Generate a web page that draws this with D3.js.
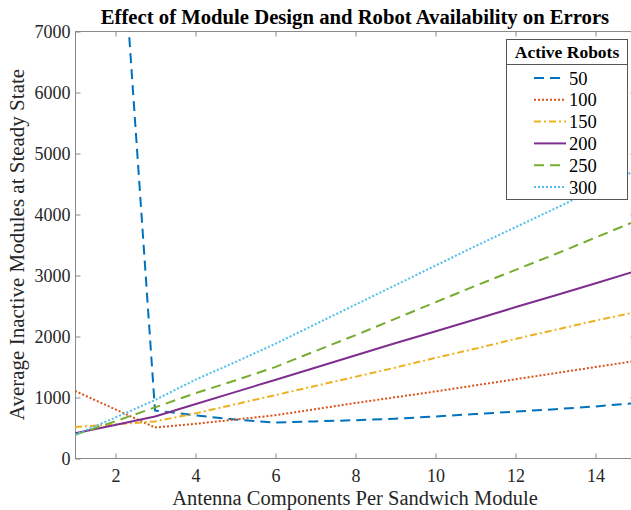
<!DOCTYPE html>
<html>
<head>
<meta charset="utf-8">
<script src="https://cdn.jsdelivr.net/npm/d3@7"></script>
<style>
  html, body { margin: 0; padding: 0; background: #fff; }
  svg { display: block; }
</style>
</head>
<body>
<svg id="chart" width="631" height="510"></svg>
<script>
// Antenna components per sandwich module (x values)
const components = [1, 2, 3, 4, 5, 6, 7, 8, 9, 10, 11, 12, 13, 14, 15];

// Average inactive modules at steady state, one array per robot count
const robots50  = [null, 10300, 780, 700, 630, 580, 600, 620, 645, 680, 720, 760, 800, 845, 900];
const robots100 = [1100, 800, 500, 560, 630, 700, 800, 900, 995, 1090, 1190, 1290, 1390, 1490, 1590];
const robots150 = [510, 550, 600, 730, 880, 1030, 1180, 1330, 1480, 1640, 1790, 1950, 2100, 2250, 2390];
const robots200 = [405, 540, 680, 880, 1080, 1280, 1480, 1680, 1880, 2075, 2270, 2470, 2665, 2860, 3060];
const robots250 = [380, 600, 830, 1060, 1270, 1490, 1750, 2010, 2280, 2550, 2820, 3080, 3340, 3610, 3880];
const robots300 = [380, 660, 950, 1280, 1570, 1870, 2190, 2510, 2830, 3150, 3470, 3780, 4090, 4400, 4710];

const seriesNames = ["50", "100", "150", "200", "250", "300"];
const seriesValues = [robots50, robots100, robots150, robots200, robots250, robots300];
const seriesColors = ["#0072BD", "#D95319", "#EDB120", "#7E2F8E", "#77AC30", "#4DBEEE"];
const seriesDashes = ["10,6", "2,2", "7,3,2,3", null, "10,6", "2,2"];

const xTicks = [2, 4, 6, 8, 10, 12, 14];
const yTicks = [0, 1000, 2000, 3000, 4000, 5000, 6000, 7000];

const titleText = "Effect of Module Design and Robot Availability on Errors";
const xLabel = "Antenna Components Per Sandwich Module";
const yLabel = "Average Inactive Modules at Steady State";
const legendTitle = "Active Robots";

const serif = '"Liberation Serif", "Times New Roman", serif';
const textColor = "#262626";

const svg = d3.select("#chart");
const margin = { left: 75, top: 31, right: 635, bottom: 458 };

const x = d3.scaleLinear().domain([1, 15]).range([margin.left, margin.right]);
const y = d3.scaleLinear().domain([0, 7000]).range([margin.bottom, margin.top]);

const axisColor = "#8a8a8a";
const tickLen = 5;

// clip region for the data lines
svg.append("defs").append("clipPath").attr("id", "plotClip")
  .append("rect")
  .attr("x", margin.left).attr("y", margin.top)
  .attr("width", margin.right - margin.left)
  .attr("height", margin.bottom - margin.top);

// axes box
svg.append("rect")
  .attr("x", margin.left + 0.5).attr("y", margin.top + 0.5)
  .attr("width", margin.right - margin.left)
  .attr("height", margin.bottom - margin.top)
  .attr("fill", "none").attr("stroke", axisColor).attr("stroke-width", 1);

function styleTicks(g) {
  g.attr("font-family", null);
  g.select(".domain").remove();
  g.selectAll("line").attr("stroke", axisColor);
  g.selectAll("text")
    .style("font-family", serif)
    .style("font-size", "18px")
    .style("fill", textColor);
}

// bottom axis (ticks inside)
svg.append("g")
  .attr("transform", `translate(0.5,${margin.bottom + 0.5})`)
  .call(d3.axisBottom(x).tickValues(xTicks).tickSize(-tickLen).tickPadding(11).tickFormat(d3.format("d")))
  .call(styleTicks);

// top axis ticks
svg.append("g")
  .attr("transform", `translate(0.5,${margin.top + 0.5})`)
  .call(d3.axisTop(x).tickValues(xTicks).tickSize(-tickLen).tickFormat(""))
  .call(styleTicks);

// left axis
svg.append("g")
  .attr("transform", `translate(${margin.left + 0.5},0.5)`)
  .call(d3.axisLeft(y).tickValues(yTicks).tickSize(-tickLen).tickPadding(5).tickFormat(d3.format("d")))
  .call(styleTicks);

// right axis ticks
svg.append("g")
  .attr("transform", `translate(${margin.right + 0.5},0.5)`)
  .call(d3.axisRight(y).tickValues(yTicks).tickSize(-tickLen).tickFormat(""))
  .call(styleTicks);

// data lines
const line = d3.line()
  .defined(d => d[1] !== null)
  .x(d => x(d[0]))
  .y(d => y(d[1]));

const plot = svg.append("g").attr("clip-path", "url(#plotClip)");
seriesValues.forEach((vals, i) => {
  const pts = components.map((c, k) => [c, vals[k]]);
  plot.append("path")
    .datum(pts)
    .attr("d", line)
    .attr("fill", "none")
    .attr("stroke", seriesColors[i])
    .attr("stroke-width", 2)
    .attr("stroke-dasharray", seriesDashes[i])
    .attr("stroke-linejoin", "round");
});

// title
svg.append("text")
  .attr("x", (margin.left + margin.right) / 2)
  .attr("y", 24)
  .attr("text-anchor", "middle")
  .style("font-family", serif)
  .style("font-size", "20.7px")
  .style("font-weight", "bold")
  .style("fill", "#000")
  .text(titleText);

// axis labels
svg.append("text")
  .attr("x", (margin.left + margin.right) / 2)
  .attr("y", 505)
  .attr("text-anchor", "middle")
  .style("font-family", serif)
  .style("font-size", "20.5px")
  .style("fill", textColor)
  .text(xLabel);

svg.append("text")
  .attr("transform", `translate(24,${(margin.top + margin.bottom) / 2}) rotate(-90)`)
  .attr("text-anchor", "middle")
  .style("font-family", serif)
  .style("font-size", "21px")
  .style("fill", textColor)
  .text(yLabel);

// legend
const lg = svg.append("g");
const lgX = 506, lgY = 39, lgW = 121, lgH = 160;
lg.append("rect")
  .attr("x", lgX + 0.5).attr("y", lgY + 0.5)
  .attr("width", lgW).attr("height", lgH)
  .attr("fill", "#fff").attr("stroke", "#555").attr("stroke-width", 1);
lg.append("text")
  .attr("x", lgX + lgW / 2 + 0.5)
  .attr("y", 58)
  .attr("text-anchor", "middle")
  .style("font-family", serif)
  .style("font-size", "17.5px")
  .style("font-weight", "bold")
  .style("fill", "#000")
  .text(legendTitle);
lg.append("line")
  .attr("x1", lgX).attr("x2", lgX + lgW + 1)
  .attr("y1", 64.5).attr("y2", 64.5)
  .attr("stroke", "#555").attr("stroke-width", 1);

seriesNames.forEach((name, i) => {
  const cy = 78 + i * 21.8;
  lg.append("line")
    .attr("x1", 534).attr("x2", 566)
    .attr("y1", cy).attr("y2", cy)
    .attr("stroke", seriesColors[i])
    .attr("stroke-width", 2)
    .attr("stroke-dasharray", seriesDashes[i]);
  lg.append("text")
    .attr("x", 569)
    .attr("y", cy + 6.5)
    .style("font-family", serif)
    .style("font-size", "18.5px")
    .style("fill", "#000")
    .text(name);
});
</script>
</body>
</html>
